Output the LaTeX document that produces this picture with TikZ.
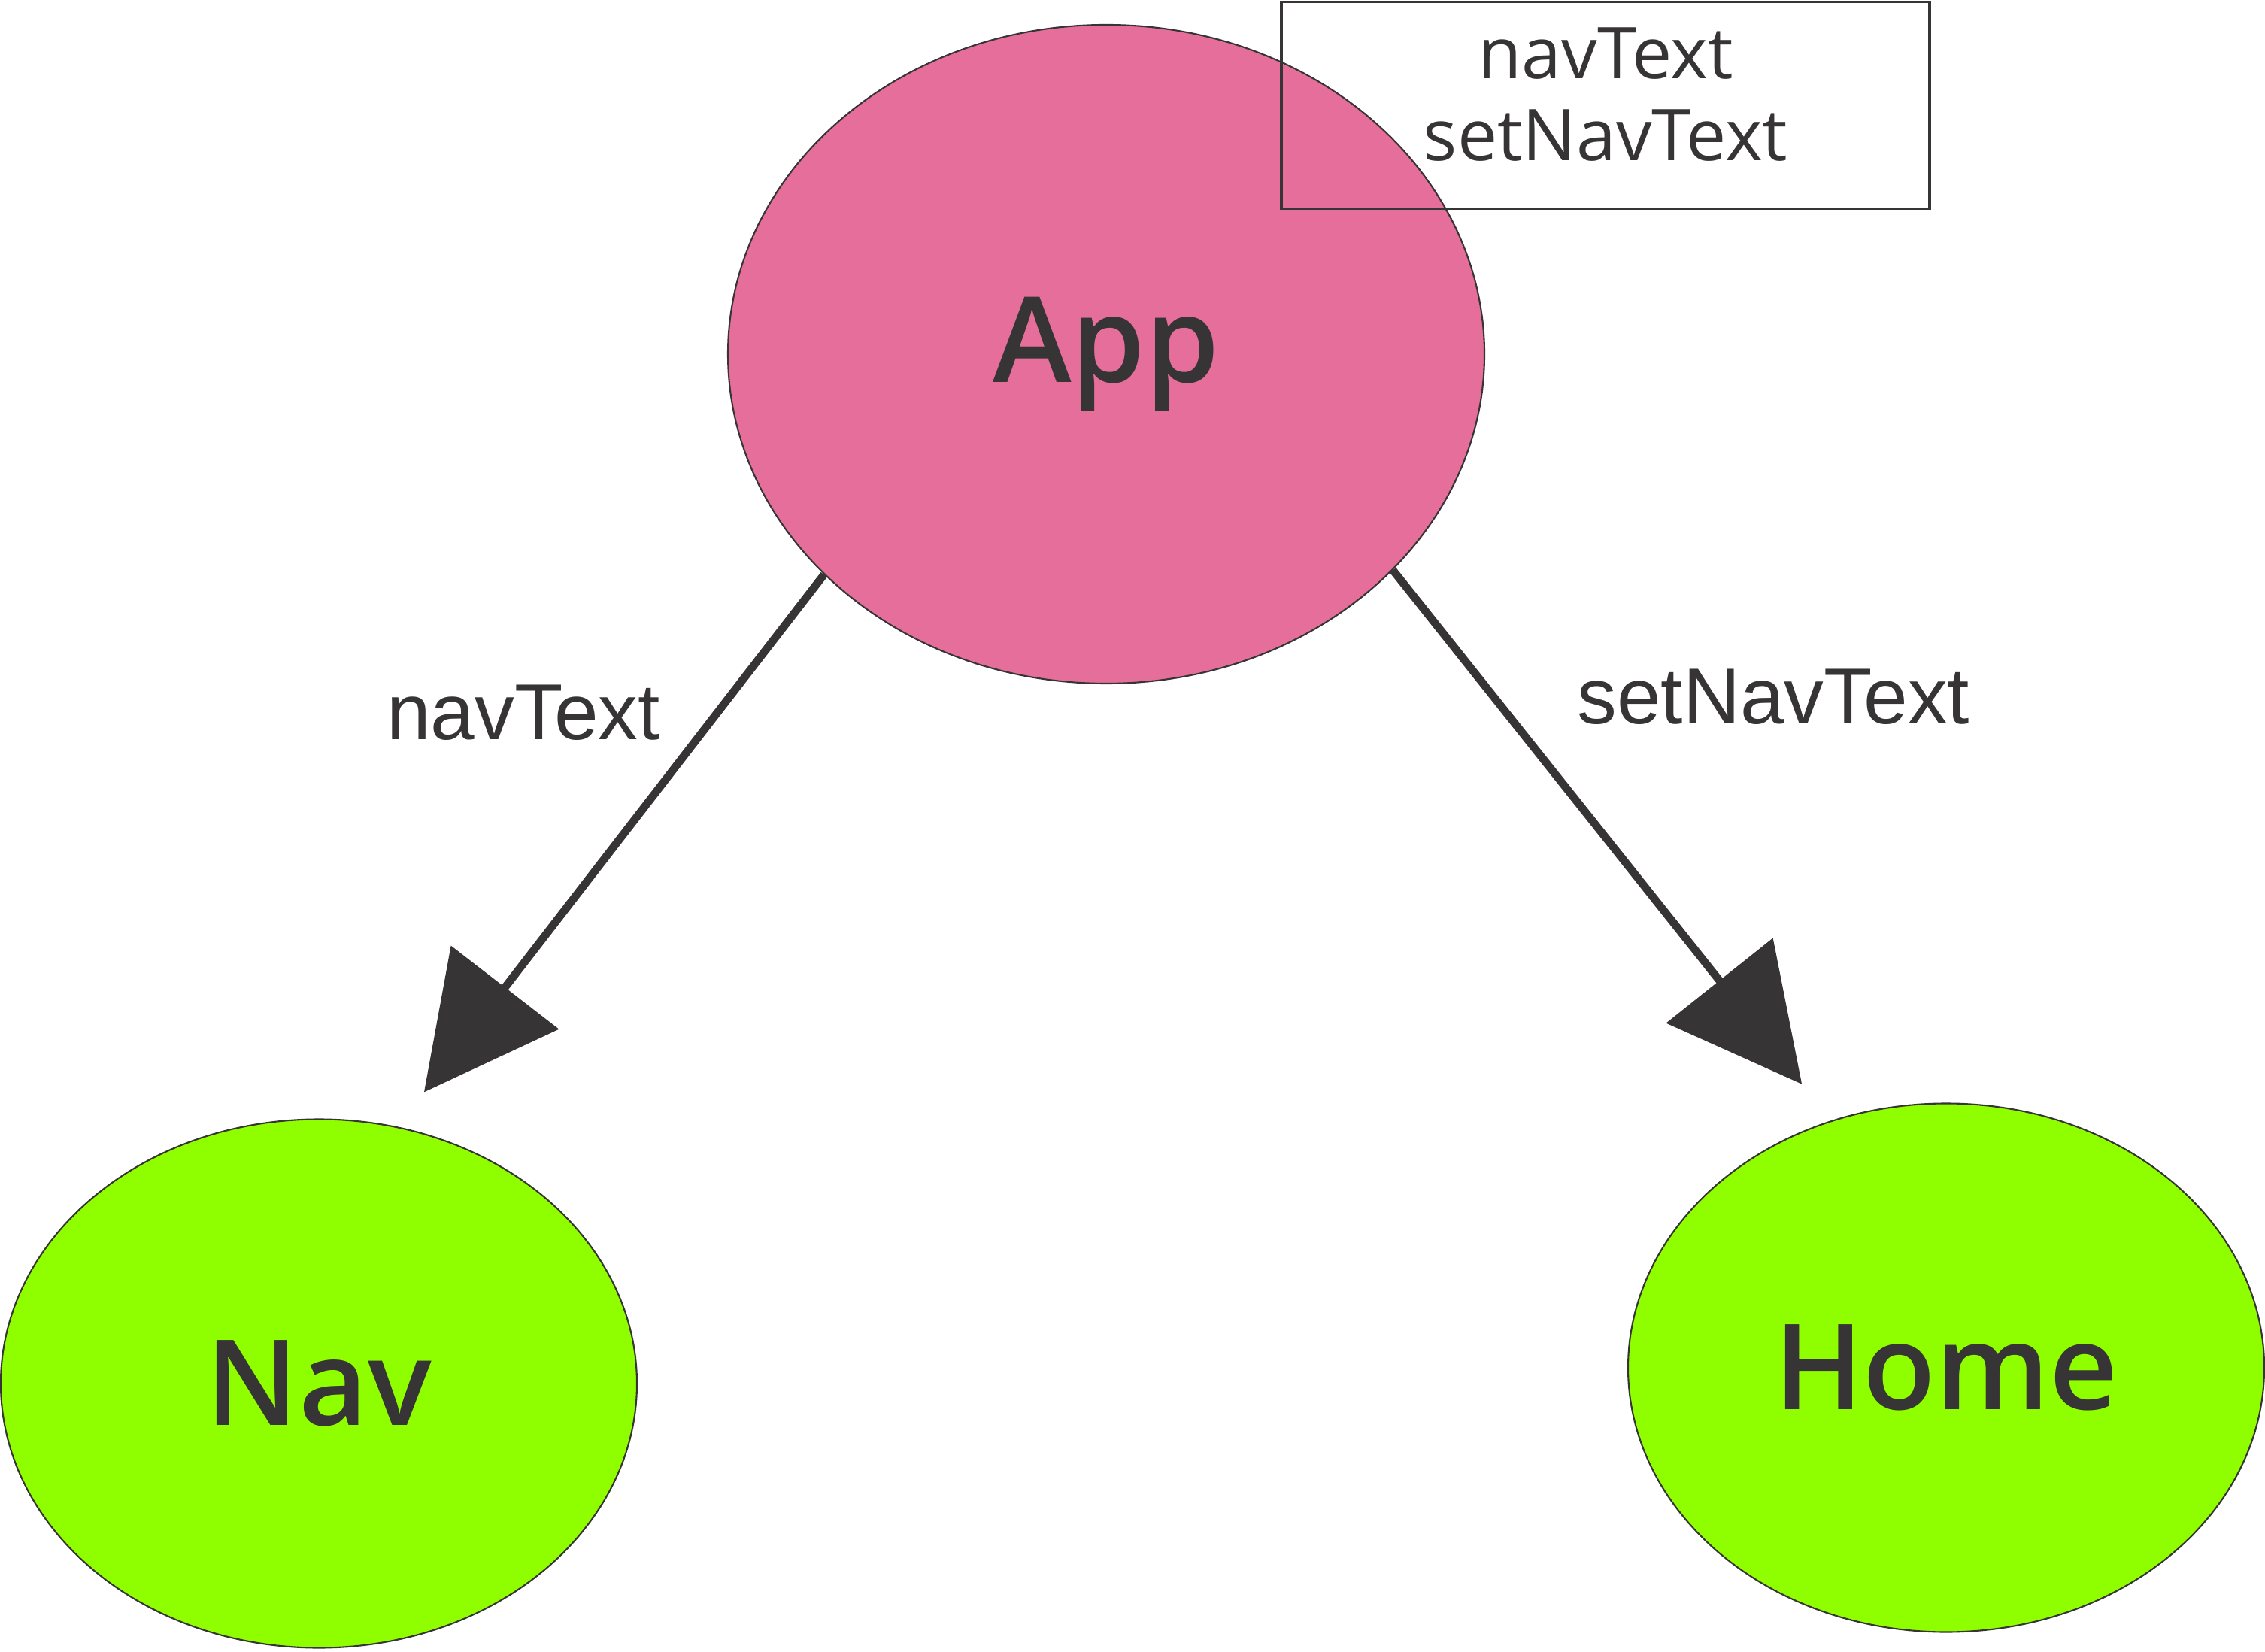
\documentclass[tikz,border=0pt]{standalone}
\usepackage{fontspec}
\setmainfont{Open Sans}
\newfontfamily\labelfont{Liberation Sans}
\newfontfamily\nodefont{Open Sans Semibold}
\usetikzlibrary{arrows.meta,positioning,shapes.geometric}
\definecolor{ink}{HTML}{363435}
\definecolor{apppink}{HTML}{E56F9A}
\definecolor{leafgreen}{HTML}{8FFF00}
\tikzset{
    %Define standard arrow tip
    >={Triangle[length=17.6mm,width=17.9mm]},
    %Define style for components
    parent/.style={
    ellipse,
    draw=ink, line width=0.6pt,
    minimum width=10.06cm,
    minimum height=8.76cm,
    inner sep=0pt,
    font=\nodefont\fontsize{45}{54}\selectfont,
    text=ink,
    fill=apppink
   },
   child/.style={
    ellipse,
    draw=ink, line width=0.6pt,
    minimum width=8.46cm,
    minimum height=7.03cm,
    inner sep=0pt,
    font=\nodefont\fontsize{45}{54}\selectfont,
    text=ink,
    fill=leafgreen
   },
   state/.style={
    rectangle,
    draw=ink, line width=0.9pt,
    minimum width=8.62cm,
    minimum height=2.75cm,
    font=\fontsize{27}{31.2}\selectfont,
    align=center,
    text depth=0.3cm,
    text=ink
   },
    % Define arrow style
    pil/.style={
           ->,
           draw=ink,
           line width=3pt},
    prop/.style={
    inner sep=0pt,
    font=\labelfont\fontsize{30}{36}\selectfont,
    text=ink
    }
}
\begin{document}
\begin{tikzpicture}
		\useasboundingbox (0,0) rectangle (30.12,21.96);
		\node[parent](app) at (14.71,17.25){App};
		\node[state](vars) at (21.35,20.56){navText\\setNavText};
		\node[child](nav) at (4.24,3.56){Nav};
		\node[child](home) at (25.88,3.77){Home};
		\path
		(app.218) edge[pil, shorten >=0.58cm] node[prop, pos=0.25, left=0.71cm]{navText} (nav.73.5)
		(app.-37) edge[pil, shorten >=0.62cm] node[prop, pos=0.23, right=1.06cm]{setNavText} (home.115.9);
		\end{tikzpicture}
\end{document}
